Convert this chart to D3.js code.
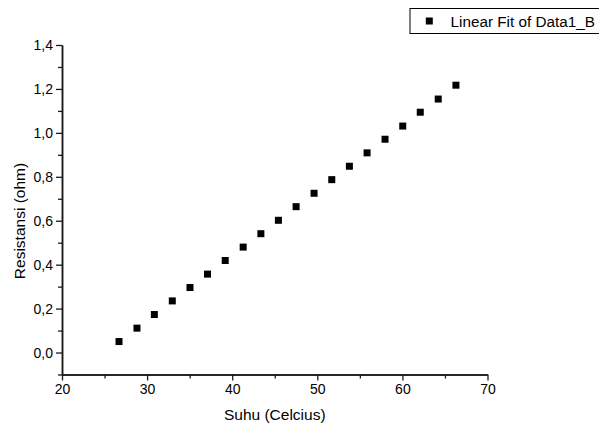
<!DOCTYPE html>
<html><head><meta charset="utf-8">
<script src="https://cdn.jsdelivr.net/npm/d3@7"></script>
<style>body{margin:0;background:#fff}svg{display:block}text{font-family:"Liberation Sans",Arial,sans-serif;fill:#000}</style>
</head><body>
<script>
const suhu = [26.70,28.81,30.85,32.96,35.04,37.10,39.18,41.29,43.37,45.43,47.51,49.62,51.70,53.77,55.85,57.96,60.04,62.10,64.21,66.29];
const resistansi = [0.050,0.111,0.173,0.235,0.296,0.357,0.419,0.480,0.541,0.602,0.664,0.725,0.787,0.848,0.909,0.971,1.031,1.094,1.154,1.217];
const xTicks = [20,30,40,50,60,70];
const xMinorTicks = [25,35,45,55,65];
const yTicks = [0.0,0.2,0.4,0.6,0.8,1.0,1.2,1.4];
const yMinorTicks = [-0.1,0.1,0.3,0.5,0.7,0.9,1.1,1.3];
const xTitle = "Suhu (Celcius)";
const yTitle = "Resistansi (ohm)";
const legendLabel = "Linear Fit of Data1_B";

const W=599,H=425;
const svg=d3.select("body").append("svg").attr("width",W).attr("height",H);
const x=d3.scaleLinear().domain([20,70]).range([62,487.5]);
const y=d3.scaleLinear().domain([-0.1,1.4]).range([374.5,45]);
const fmt=d=>d3.format(".1f")(d).replace(".",",");
const axisColor="#1a1a1a";

// x axis
const gx=svg.append("g").attr("transform",`translate(0,${y(-0.1)})`);
gx.call(d3.axisBottom(x).tickValues(xTicks).tickSize(6).tickSizeOuter(0).tickPadding(4).tickFormat(d3.format("d")));
gx.append("g").call(d3.axisBottom(x).tickValues(xMinorTicks).tickSize(4).tickSizeOuter(0).tickFormat(""));
// y axis
const gy=svg.append("g").attr("transform",`translate(${x(20)},0)`);
gy.call(d3.axisLeft(y).tickValues(yTicks).tickSize(6).tickSizeOuter(0).tickPadding(3).tickFormat(fmt));
gy.append("g").call(d3.axisLeft(y).tickValues(yMinorTicks).tickSize(4).tickSizeOuter(0).tickFormat(""));
svg.selectAll(".domain").attr("stroke",axisColor).attr("stroke-width",1.5);
svg.selectAll(".tick line").attr("stroke",axisColor).attr("stroke-width",1.3);
svg.selectAll(".tick text").attr("font-size",14).attr("font-family","Liberation Sans, Arial, sans-serif").attr("fill","#000");

// titles
svg.append("text").attr("x",(x(20)+x(70))/2).attr("y",420).attr("text-anchor","middle").attr("font-size",15.5).text(xTitle);
svg.append("text").attr("transform",`translate(25,221) rotate(-90)`).attr("text-anchor","middle").attr("font-size",15.5).text(yTitle);

// points
const s=7;
svg.append("g").selectAll("rect").data(suhu.map((d,i)=>[d,resistansi[i]])).join("rect")
  .attr("x",d=>x(d[0])-s/2).attr("y",d=>y(d[1])-s/2).attr("width",s).attr("height",s).attr("fill","#000");

// legend
svg.append("rect").attr("x",410).attr("y",8.5).attr("width",200).attr("height",25).attr("fill","#fff").attr("stroke","#000").attr("stroke-width",1);
svg.append("rect").attr("x",429.3-s/2).attr("y",21-s/2).attr("width",s).attr("height",s).attr("fill","#000");
svg.append("text").attr("x",450.5).attr("y",26.8).attr("font-size",15.3).text(legendLabel);
</script>
</body></html>
